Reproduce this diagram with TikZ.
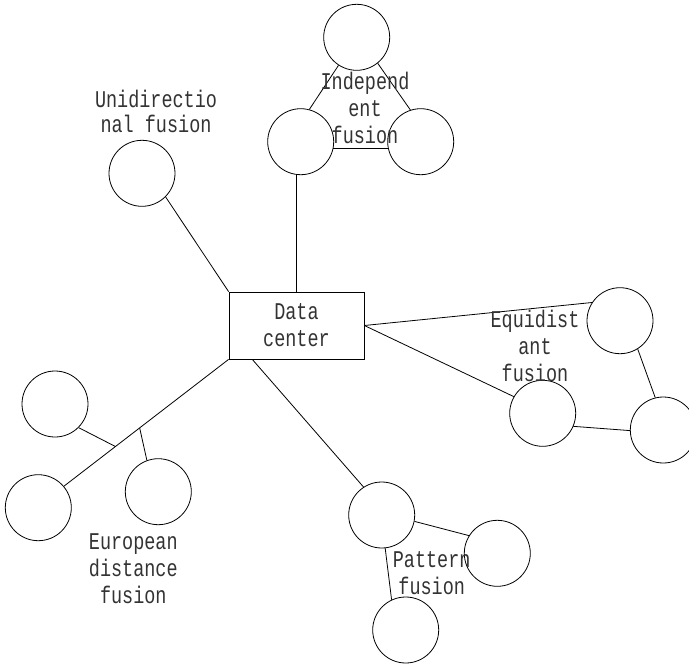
\documentclass[tikz,border=0pt]{standalone}
\usepackage{fontspec}
\setmainfont{Liberation Mono}
\newfontfamily\lblfont[FakeStretch=0.77]{Liberation Mono}
\usetikzlibrary{calc}
\begin{document}
\begin{tikzpicture}[x=1pt,y=-1pt,
  ball/.style={circle,draw,line width=0.8pt,minimum size=66pt,inner sep=0pt},
  conn/.style={line width=0.8pt},
  lbl/.style={align=center,inner sep=0pt,text=black!80,font=\lblfont\fontsize{24}{27}\selectfont}]
\useasboundingbox (0,0) rectangle (689,665);
% central box
\node[draw,line width=0.8pt,minimum width=135pt,minimum height=67pt,inner sep=0pt,lbl] (dc) at (296.5,325.5) {Data\\center};
% unidirectional
\node[ball] (u) at (142,173.3) {};
\node[lbl,font=\lblfont\fontsize{24}{25}\selectfont] (ul) at (156,111) {Unidirectio\\nal fusion};
\draw[conn] (u.-45) -- (dc.north west);
% independent
\node[ball] (i0) at (356.7,37.3) {};
\node[ball] (i1) at (300.7,141.7) {};
\node[ball] (i2) at (420.7,141.7) {};
\draw[conn] (i0.-123) -- (i1.75);
\draw[conn] (i0.-51.7) -- (i2.108.6);
\draw[conn] (i1.-11.5) -- (i2.191.5);
\draw[conn] (dc.north) -- (dc.north |- i1.south);
\node[lbl] (il) at (365,108) {Independ\\ent\\fusion};
% equidistant
\node[ball] (q1) at (620,320.7) {};
\node[ball] (q2) at (542.7,413.3) {};
\node[ball] (q3) at (663.3,430) {};
\draw[conn] (dc.east) -- (q1.147);
\draw[conn] (dc.east) -- (q2.150.5);
\draw[conn] (q1.-58) -- (q3.104.7);
\draw[conn] (q2.-23.6) -- (q3.181);
\node[lbl] (ql) at (535,346) {Equidist\\ant\\fusion};
% pattern
\node[ball] (p1) at (381.7,515) {};
\node[ball] (p2) at (497.3,553.3) {};
\node[ball] (p3) at (405.7,630) {};
\draw[conn] ([xshift=23.7pt]dc.south west) -- (p1.123.5);
\draw[conn] (p1.-11.4) -- (p2.148.3);
\draw[conn] (p1.-84) -- (p3.115);
\node[lbl] (pl) at (431.7,573) {Pattern\\fusion};
% european
\node[ball] (e1) at (55,404) {};
\node[ball] (e2) at (38.3,507.7) {};
\node[ball] (e3) at (158.3,491.7) {};
\draw[conn] (dc.south west) -- (e2.40.4);
\coordinate (b1) at ($(dc.south west)!0.687!(e2.40.4)$);
\coordinate (b2) at ($(dc.south west)!0.540!(e2.40.4)$);
\draw[conn] (e1.-45.9) -- (b1);
\draw[conn] (b2) -- (e3.110);
\node[lbl] (el) at (133.3,569) {European\\distance\\fusion};
\end{tikzpicture}
\end{document}
